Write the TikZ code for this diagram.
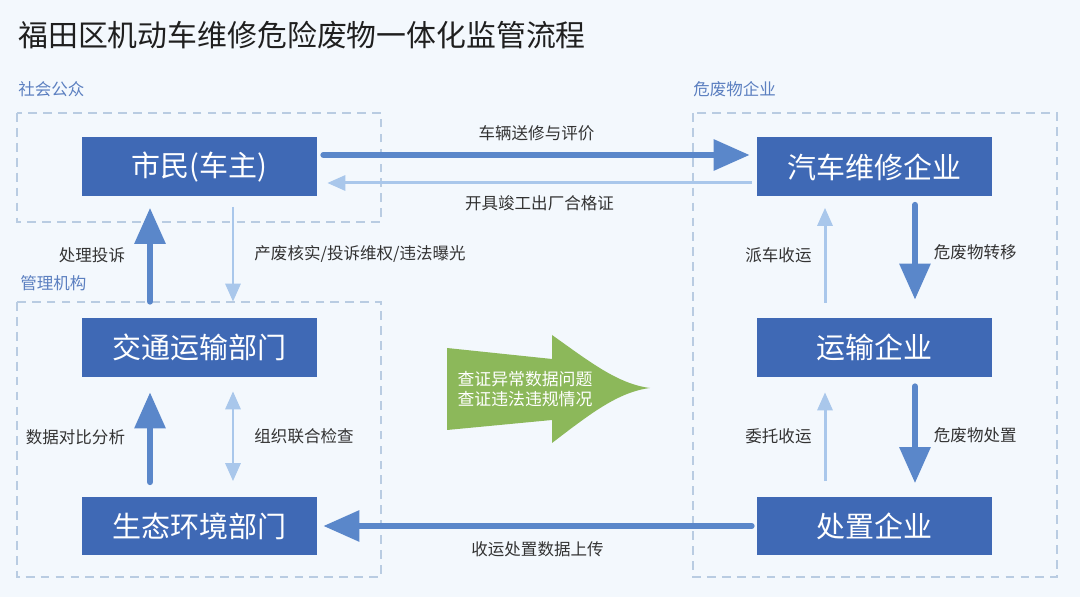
\documentclass[tikz,border=0pt]{standalone}
\usepackage{fontspec}
\setmainfont{Noto Sans CJK SC}
\usepackage{xcolor}
\usetikzlibrary{arrows.meta}
\definecolor{bgblue}{HTML}{F3F8FD}
\definecolor{unitblue}{HTML}{3F69B5}
\definecolor{mainblue}{HTML}{5A87CA}
\definecolor{auxblue}{HTML}{A9C7EB}
\definecolor{dashblue}{HTML}{B9CCE2}
\definecolor{sectblue}{HTML}{5B7FC0}
\definecolor{chkgreen}{HTML}{8CB85A}
\definecolor{labelgray}{HTML}{333333}

\begin{document}
\begin{tikzpicture}[x=0.02cm,y=-0.02cm]
\tikzset{>={Triangle[width=6mm,length=7.2mm]}}
\tikzstyle{unit} =[rectangle, fill=unitblue, text=white, minimum width=4.7cm, minimum height=1.18cm, inner sep=0pt, font=\fontsize{16.5pt}{18pt}\selectfont]
\tikzstyle{group} =[draw=dashblue, line width=0.85pt, dash pattern=on 5pt off 3.5pt]
\tikzstyle{sect} =[anchor=west, inner sep=0pt, text=sectblue, font=\fontsize{9.4pt}{11pt}\selectfont]
\tikzstyle{lbl} =[inner sep=0pt, text=labelgray, font=\fontsize{9.4pt}{11pt}\selectfont]
\tikzstyle{flowmain} =[->, draw=mainblue, line width=3.4pt, line cap=round]
\tikzstyle{flowaux} =[draw=auxblue, line width=1.7pt, -{Triangle[width=3mm,length=3.6mm]}]

\fill[bgblue] (0,0) rectangle (1080,597);

\node[anchor=west, inner sep=0pt, text=black!88, font=\fontsize{17pt}{20pt}\selectfont] (title) at (18,35) {福田区机动车维修危险废物一体化监管流程};

\node[sect] (gz) at (18,89) {社会公众};
\node[sect] (jg) at (20,283) {管理机构};
\node[sect] (qy) at (693,89) {危废物企业};

\draw[group] (17,113) rectangle (381,222);
\draw[group] (17,302) rectangle (381,577);
\draw[group] (693,113) rectangle (1057,577);

\node[unit] (smin) at (199.5,167) {市民(车主)};
\node[unit] (qx) at (874.5,167) {汽车维修企业};
\node[unit] (jt) at (199.5,347.5) {交通运输部门};
\node[unit] (ys) at (874.5,347.5) {运输企业};
\node[unit] (st) at (199.5,526) {生态环境部门};
\node[unit] (cz) at (874.5,526) {处置企业};

\draw[flowmain] ([xshift=0.12cm,yshift=0.24cm]smin.east) -- ([xshift=-0.14cm,yshift=0.24cm]qx.west) node[lbl,midway,yshift=0.44cm] (sx) {车辆送修与评价};
\draw[flowaux] ([xshift=-0.1cm,yshift=-0.32cm]qx.west) -- ([xshift=0.2cm,yshift=-0.32cm]smin.east) node[lbl,midway,yshift=-0.4cm] (hg) {开具竣工出厂合格证};
\draw[flowmain] ([xshift=-0.1cm]cz.west) -- ([xshift=0.12cm]st.east) node[lbl,midway,yshift=-0.46cm] (sc) {收运处置数据上传};

\draw[flowmain] ([xshift=-0.99cm,yshift=0.32cm]jt.north) -- ([xshift=-0.99cm,yshift=-0.22cm]smin.south) node[lbl,midway,left=0.44cm] (ts) {处理投诉};
\draw[flowaux] ([xshift=0.67cm,yshift=-0.2cm]smin.south) -- ([xshift=0.67cm,yshift=0.32cm]jt.north) node[lbl,midway,right=0.4cm] (hs) {产废核实/投诉维权/违法曝光};
\draw[flowmain] ([xshift=-0.99cm,yshift=0.28cm]st.north) -- ([xshift=-0.99cm,yshift=-0.3cm]jt.south) node[lbl,midway,left=0.44cm] (db) {数据对比分析};
\draw[flowaux,{Triangle[width=3mm,length=3.6mm]}-{Triangle[width=3mm,length=3.6mm]}] ([xshift=0.67cm,yshift=-0.28cm]jt.south) -- ([xshift=0.67cm,yshift=0.3cm]st.north) node[lbl,midway,right=0.4cm] (lh) {组织联合检查};

\draw[flowaux] ([xshift=-0.99cm,yshift=0.3cm]ys.north) -- ([xshift=-0.99cm,yshift=-0.22cm]qx.south) node[lbl,midway,left=0.24cm] (pc) {派车收运};
\draw[flowmain] ([xshift=0.81cm,yshift=-0.16cm]qx.south) -- ([xshift=0.81cm,yshift=0.36cm]ys.north) node[lbl,midway,right=0.32cm] (zy) {危废物转移};
\draw[flowaux] ([xshift=-0.99cm,yshift=0.3cm]cz.north) -- ([xshift=-0.99cm,yshift=-0.3cm]ys.south) node[lbl,midway,left=0.24cm] (wt) {委托收运};
\draw[flowmain] ([xshift=0.81cm,yshift=-0.18cm]ys.south) -- ([xshift=0.81cm,yshift=0.26cm]cz.north) node[lbl,midway,right=0.32cm] (cl) {危废物处置};

\fill[chkgreen] (447,348) -- (552,359) -- (552,335) .. controls (590,362) and (618,384) .. (650,388) .. controls (618,392) and (590,414) .. (552,443) -- (552,420) -- (447,430) -- cycle;
\node[align=center, text=white, inner sep=0pt, font=\fontsize{9.6pt}{11.4pt}\selectfont] (chk) at (525,389) {查证异常数据问题\\查证违法违规情况};
\end{tikzpicture}
\end{document}
